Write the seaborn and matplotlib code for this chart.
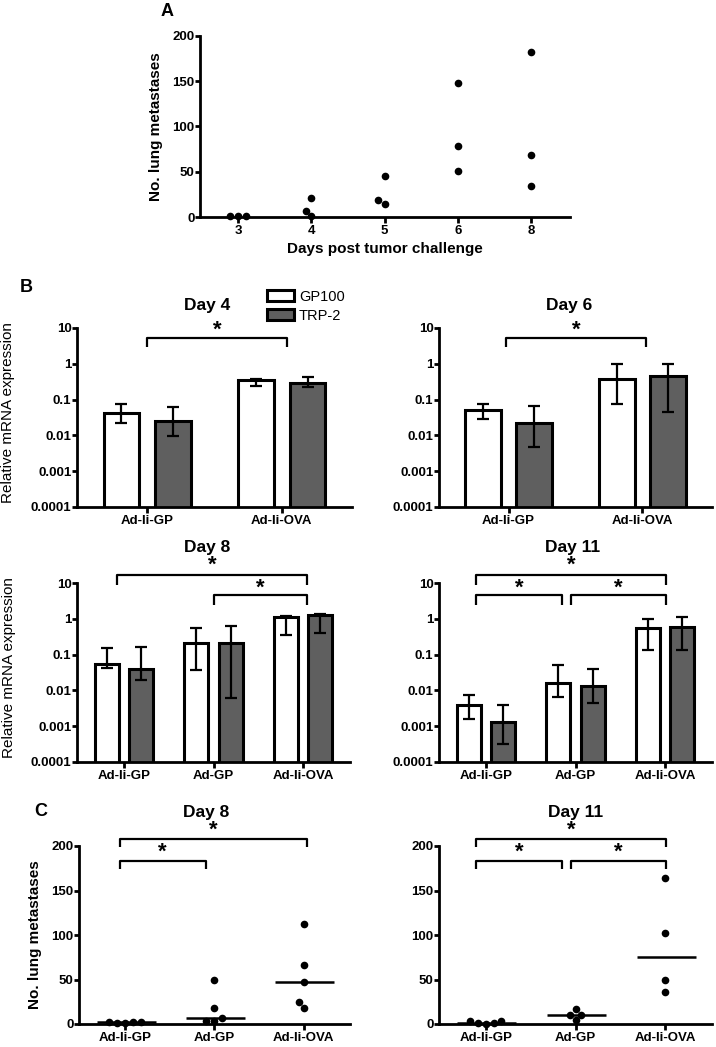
import numpy as np
import pandas as pd
import seaborn as sns
import matplotlib.pyplot as plt
import matplotlib.patches as mpatches
from matplotlib.ticker import FixedLocator, NullLocator

# ---- panel A: lung metastases by day
days = ['3', '4', '5', '6', '8']
mets_by_day = {
    '3': [1, 1, 1],
    '4': [21, 1, 7],
    '5': [45, 14, 19],
    '6': [148, 79, 51],
    '8': [182, 68, 34],
}

# ---- panel B: relative mRNA expression (bar, lower err, upper err)
genes = ['GP100', 'TRP-2']
groups2 = ['Ad-Ii-GP', 'Ad-Ii-OVA']
groups3 = ['Ad-Ii-GP', 'Ad-GP', 'Ad-Ii-OVA']

day4_gp100 = [0.042, 0.35]
day4_gp100_lo = [0.022, 0.235]
day4_gp100_hi = [0.074, 0.37]
day4_trp2 = [0.0247, 0.284]
day4_trp2_lo = [0.0094, 0.22]
day4_trp2_hi = [0.064, 0.42]

day6_gp100 = [0.050, 0.385]
day6_gp100_lo = [0.028, 0.077]
day6_gp100_hi = [0.077, 0.99]
day6_trp2 = [0.022, 0.456]
day6_trp2_lo = [0.0047, 0.046]
day6_trp2_hi = [0.066, 0.99]

day8_gp100 = [0.053, 0.205, 1.11]
day8_gp100_lo = [0.043, 0.036, 0.358]
day8_gp100_hi = [0.155, 0.55, 1.2]
day8_trp2 = [0.0395, 0.205, 1.26]
day8_trp2_lo = [0.0199, 0.006, 0.41]
day8_trp2_hi = [0.162, 0.61, 1.35]

day11_gp100 = [0.0039, 0.0164, 0.57]
day11_gp100_lo = [0.0016, 0.0065, 0.131]
day11_gp100_hi = [0.0074, 0.051, 1.0]
day11_trp2 = [0.00134, 0.013, 0.60]
day11_trp2_lo = [0.00031, 0.0045, 0.131]
day11_trp2_hi = [0.0039, 0.0387, 1.14]

log_ticks = [0.0001, 0.001, 0.01, 0.1, 1, 10]
log_tick_labels = ['0.0001', '0.001', '0.01', '0.1', '1', '10']

# ---- panel C: lung metastases per mouse
c8_mets = {
    'Ad-Ii-GP': [2, 2, 1, 1, 2],
    'Ad-GP': [49, 18, 6.5, 3, 3],
    'Ad-Ii-OVA': [112, 66, 47, 25, 18],
}
c11_mets = {
    'Ad-Ii-GP': [0, 3, 1, 1, 3],
    'Ad-GP': [17, 10, 10, 4],
    'Ad-Ii-OVA': [164, 102, 49, 36],
}

GREY = '#5f5f5f'
W, H = 716, 1047

sns.set_theme(style='ticks')
plt.rcParams['font.family'] = ['Liberation Sans', 'DejaVu Sans']
plt.rcParams['font.weight'] = 'bold'
plt.rcParams['text.color'] = 'black'
plt.rcParams['axes.labelcolor'] = 'black'
plt.rcParams['axes.linewidth'] = 2.0
plt.rcParams['xtick.major.width'] = 2.0
plt.rcParams['ytick.major.width'] = 2.0
plt.rcParams['xtick.major.size'] = 4
plt.rcParams['ytick.major.size'] = 3.5
plt.rcParams['xtick.major.pad'] = 1.5
plt.rcParams['ytick.major.pad'] = 0.5
plt.rcParams['xtick.labelsize'] = 9.5
plt.rcParams['ytick.labelsize'] = 9.5
plt.rcParams['xtick.color'] = 'black'
plt.rcParams['ytick.color'] = 'black'
plt.rcParams['axes.edgecolor'] = 'black'

fig = plt.figure(figsize=(W / 100, H / 100), dpi=100)


def box(l, r, t, b):
    return [l / W, 1 - b / H, (r - l) / W, (b - t) / H]


def bracket(ax, x0, x1, y, leg, star_y):
    tr = ax.get_xaxis_transform()
    ax.plot([x0, x0, x1, x1], [leg, y, y, leg], color='black', lw=1.6,
            transform=tr, clip_on=False, solid_capstyle='butt')
    ax.text((x0 + x1) / 2, star_y, '*', ha='center', va='center',
            transform=tr, fontsize=16, fontweight='bold', color='black')


def title(ax, text, x, y):
    ax.text(x, y, text, ha='center', va='center', transform=ax.transAxes,
            fontsize=12.5, fontweight='bold', color='black')


def bar_panel(ax, groups, gp, gp_lo, gp_hi, trp, trp_lo, trp_hi):
    n = len(groups)
    df = pd.DataFrame({
        'group': groups * 2,
        'gene': ['GP100'] * n + ['TRP-2'] * n,
        'value': gp + trp,
        'lo': gp_lo + trp_lo,
        'hi': gp_hi + trp_hi,
    })
    sns.barplot(df, x='group', y='value', hue='gene', order=groups,
                hue_order=genes, palette=['white', GREY], edgecolor='black',
                linewidth=2.2, width=0.76, gap=0.3, errorbar=None,
                legend=False, ax=ax, saturation=1)
    ax.set_yscale('log')
    # error bars at the bar centres
    bars = sorted(ax.patches, key=lambda p: p.get_x())
    df['gi'] = df['group'].map(groups.index)
    df['hi_'] = df['gene'].map(genes.index)
    df = df.sort_values(['gi', 'hi_'])
    xs = [p.get_x() + p.get_width() / 2 for p in bars]
    ax.errorbar(xs, df['value'], yerr=[df['value'] - df['lo'], df['hi'] - df['value']],
                fmt='none', ecolor='black', elinewidth=1.6, capsize=4.5,
                capthick=1.6, zorder=5)
    ax.set_ylim(1e-4, 10)
    ax.yaxis.set_major_locator(FixedLocator(log_ticks))
    ax.yaxis.set_minor_locator(NullLocator())
    ax.set_yticklabels(log_tick_labels)
    ax.set_xlim(-0.52, n - 0.48)
    ax.set_xlabel('')
    ax.set_ylabel('')
    sns.despine(ax=ax)


def dot_panel(ax, mets):
    rows = [(g, v) for g, vals in mets.items() for v in vals]
    df = pd.DataFrame(rows, columns=['group', 'count'])
    sns.swarmplot(df, x='group', y='count', order=groups3, color='black',
                  size=5.5, ax=ax)
    for coll in ax.collections:
        coll.set_clip_on(False)
    for i, g in enumerate(groups3):
        ax.hlines(np.median(mets[g]), i - 0.32, i + 0.34, color='black',
                  lw=1.8, zorder=4, clip_on=False)
    ax.set_ylim(0, 200)
    ax.set_yticks([0, 50, 100, 150, 200])
    ax.set_xlim(-0.52, 2.52)
    ax.set_xlabel('')
    ax.set_ylabel('')
    sns.despine(ax=ax)


# ---- A
axA = fig.add_axes(box(200, 570, 36, 217))
dfA = pd.DataFrame([(d, v) for d in days for v in mets_by_day[d]],
                   columns=['day', 'count'])
sns.swarmplot(dfA, x='day', y='count', order=days, color='black', size=5.5, ax=axA)
for coll in axA.collections:
    coll.set_clip_on(False)
axA.set_ylim(0, 200)
axA.set_yticks([0, 50, 100, 150, 200])
axA.set_xlim(-0.52, 4.53)
axA.set_xlabel('Days post tumor challenge', fontsize=11, fontweight='bold')
axA.xaxis.set_label_coords(0.5, -0.14)
axA.xaxis.label.set_va('top')
axA.set_ylabel('No. lung metastases', fontsize=11, fontweight='bold')
axA.yaxis.set_label_coords(-0.1, 0.5)
sns.despine(ax=axA)

# ---- B
axB4 = fig.add_axes(box(77, 352, 328, 507))
bar_panel(axB4, groups2, day4_gp100, day4_gp100_lo, day4_gp100_hi,
          day4_trp2, day4_trp2_lo, day4_trp2_hi)
title(axB4, 'Day 4', 0.475, 1.123)
bracket(axB4, 0.0, 1.04, 0.944, 0.894, 0.99)
axB4.set_ylabel('Relative mRNA expression', fontsize=11, fontweight='normal')
axB4.yaxis.set_label_coords(-0.225, 0.53)
handles = [mpatches.Patch(facecolor='white', edgecolor='black', lw=2.2, label='GP100'),
           mpatches.Patch(facecolor=GREY, edgecolor='black', lw=2.2, label='TRP-2')]
axB4.legend(handles=handles, loc='upper left', bbox_to_anchor=(0.69, 1.215),
            frameon=False, prop={'size': 10.5, 'weight': 'normal'},
            handlelength=1.9, handleheight=0.7, handletextpad=0.3,
            labelspacing=0.35, borderaxespad=0, borderpad=0)

axB6 = fig.add_axes(box(439, 712, 328, 507))
bar_panel(axB6, groups2, day6_gp100, day6_gp100_lo, day6_gp100_hi,
          day6_trp2, day6_trp2_lo, day6_trp2_hi)
title(axB6, 'Day 6', 0.475, 1.123)
bracket(axB6, -0.02, 1.03, 0.944, 0.894, 0.99)

axB8 = fig.add_axes(box(77, 350, 583, 762))
bar_panel(axB8, groups3, day8_gp100, day8_gp100_lo, day8_gp100_hi,
          day8_trp2, day8_trp2_lo, day8_trp2_hi)
title(axB8, 'Day 8', 0.476, 1.196)
bracket(axB8, -0.07, 2.04, 1.045, 0.99, 1.10)
bracket(axB8, 1.0, 2.04, 0.933, 0.877, 0.97)
axB8.set_ylabel('Relative mRNA expression', fontsize=11, fontweight='normal')
axB8.yaxis.set_label_coords(-0.225, 0.53)

axB11 = fig.add_axes(box(439, 712, 583, 762))
bar_panel(axB11, groups3, day11_gp100, day11_gp100_lo, day11_gp100_hi,
          day11_trp2, day11_trp2_lo, day11_trp2_hi)
title(axB11, 'Day 11', 0.49, 1.196)
bracket(axB11, -0.11, 2.01, 1.045, 0.99, 1.10)
bracket(axB11, -0.11, 0.85, 0.933, 0.877, 0.97)
bracket(axB11, 0.95, 2.01, 0.933, 0.877, 0.97)

# ---- C
axC8 = fig.add_axes(box(79, 350, 846, 1024))
dot_panel(axC8, c8_mets)
title(axC8, 'Day 8', 0.47, 1.191)
bracket(axC8, -0.06, 2.04, 1.039, 0.994, 1.09)
bracket(axC8, -0.06, 0.9, 0.916, 0.871, 0.966)
axC8.set_ylabel('No. lung metastases', fontsize=11, fontweight='bold')
axC8.yaxis.set_label_coords(-0.137, 0.5)

axC11 = fig.add_axes(box(439, 712, 846, 1024))
dot_panel(axC11, c11_mets)
title(axC11, 'Day 11', 0.5, 1.191)
bracket(axC11, -0.11, 2.01, 1.039, 0.994, 1.09)
bracket(axC11, -0.11, 0.85, 0.916, 0.871, 0.966)
bracket(axC11, 0.95, 2.01, 0.916, 0.871, 0.966)

# panel letters
fig.text(167 / W, 1 - 12 / H, 'A', ha='center', va='center', fontsize=13, fontweight='bold')
fig.text(26 / W, 1 - 287 / H, 'B', ha='center', va='center', fontsize=13, fontweight='bold')
fig.text(41 / W, 1 - 812 / H, 'C', ha='center', va='center', fontsize=13, fontweight='bold')

fig.savefig('out.png', dpi=100, facecolor='white')
